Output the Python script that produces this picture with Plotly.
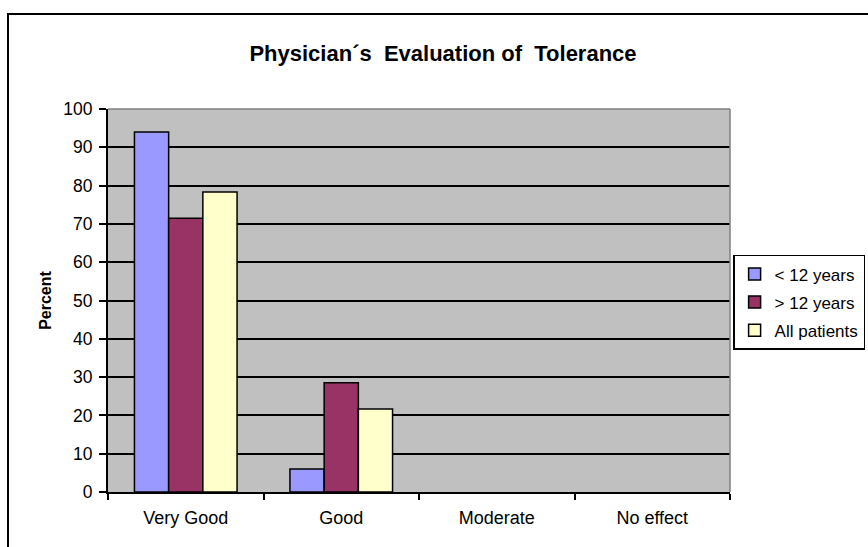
import plotly.graph_objects as go

categories = ["Very Good", "Good", "Moderate", "No effect"]
series_names = ["< 12 years", "> 12 years", "All patients"]
under_12 = [94, 6, 0, 0]
over_12 = [71.5, 28.5, 0, 0]
all_patients = [78.3, 21.7, 0, 0]
y_ticks = list(range(0, 101, 10))

colors = ["#9999FF", "#993366", "#FFFFCC"]
FONT = "Liberation Sans, Arial, sans-serif"

fig = go.Figure()
for i, (name, vals) in enumerate(zip(series_names, [under_12, over_12, all_patients])):
    fig.add_trace(go.Bar(
        x=categories, y=vals, name=name, legendgroup=f"g{i}",
        marker=dict(color=colors[i],
                    line=dict(color="black", width=[1.5 if v > 0 else 0 for v in vals])),
    ))

fig.update_layout(
    width=868, height=547,
    margin=dict(l=108, r=138, t=109, b=55, autoexpand=False),
    paper_bgcolor="white",
    plot_bgcolor="#C0C0C0",
    barmode="group", bargap=0.34, bargroupgap=0,
    font=dict(family=FONT, size=17, color="black"),
    title=dict(text="<b>Physician´s  Evaluation of  Tolerance</b>",
               font=dict(family=FONT, size=22, color="black"),
               xref="container", x=443 / 868, xanchor="center",
               yref="container", y=1 - 53 / 547, yanchor="middle"),
    showlegend=True,
    legend=dict(x=1.005, xanchor="left", y=0.619, yanchor="top",
                bordercolor="black", borderwidth=1.5, bgcolor="white",
                font=dict(family=FONT, size=17, color="black"),
                traceorder="grouped", tracegroupgap=3,
                itemwidth=30),
    xaxis=dict(type="category", showgrid=False, showline=True, linecolor="black", linewidth=2,
               ticks="outside", tickson="boundaries", ticklen=6, tickwidth=1.5, tickcolor="black",
               tickfont=dict(size=18), ticklabelstandoff=8),
    yaxis=dict(range=[0, 100], tickvals=y_ticks, showgrid=True, gridcolor="black", gridwidth=1.5,
               showline=True, linecolor="black", linewidth=2, zeroline=False,
               ticks="outside", ticklen=7, tickwidth=1.5, tickcolor="black",
               tickfont=dict(size=17.5), ticklabelstandoff=3,
               title=dict(text="<b>Percent</b>", font=dict(family=FONT, size=16), standoff=8)),
    shapes=[
        dict(type="line", xref="paper", yref="paper", x0=0, x1=1, y0=1, y1=1,
             line=dict(color="#808080", width=1.5), layer="above"),
        dict(type="line", xref="paper", yref="paper", x0=1, x1=1, y0=0, y1=1,
             line=dict(color="#808080", width=1.5), layer="above"),
        dict(type="rect", xref="paper", yref="paper", x0=-100 / 622, x1=2, y0=-1, y1=(492 - 14) / 383,
             line=dict(color="black", width=2), fillcolor="rgba(0,0,0,0)", layer="above"),
    ],
)

fig.write_html("out.html", config={"displayModeBar": False},
               post_script="document.body.style.margin='0';")
